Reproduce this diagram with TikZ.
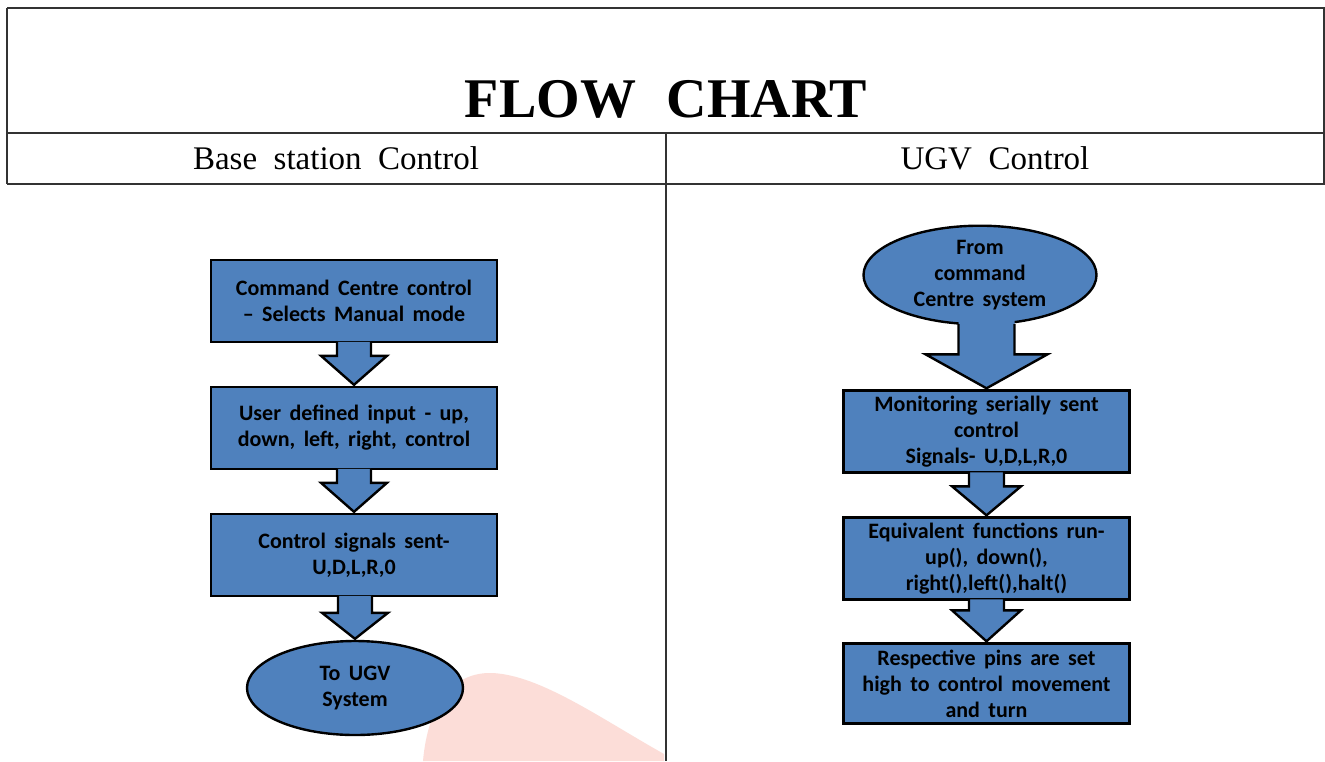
\documentclass[tikz,border=0pt]{standalone}
\usepackage{fontspec}
\setmainfont{Liberation Serif}
\newfontfamily\boxfont[WordSpace=1.7]{Carlito}
\usetikzlibrary{calc,shapes.geometric,backgrounds}
\definecolor{flowblue}{HTML}{4F81BD}
\definecolor{markpink}{HTML}{FCDDD8}
\definecolor{rulegray}{HTML}{333333}

% block arrow from the bottom of #1 to the top of #2, merged into #1:
% #3 half shaft width, #4 half head width, #5 head length,
% #6 how far the fill reaches back into #1
\newcommand\blockarrow[6]{%
  \fill[flowblue] let \p1=(#1.south), \p2=(#2.north) in
    (\x2-#3,\y1+#6) -- (\x2-#3,\y2+#5) -- (\x2-#4,\y2+#5) -- (\x2,\y2+1)
    -- (\x2+#4,\y2+#5) -- (\x2+#3,\y2+#5) -- (\x2+#3,\y1+#6) -- cycle;
  \draw[blockarrowstyle] let \p1=(#1.south), \p2=(#2.north) in
    (\x2-#3,\y1+1.5) -- (\x2-#3,\y2+#5) -- (\x2-#4,\y2+#5) -- (\x2,\y2+1)
    -- (\x2+#4,\y2+#5) -- (\x2+#3,\y2+#5) -- (\x2+#3,\y1+1.5);}

\begin{document}
\begin{tikzpicture}[x=1pt,y=-1pt,
  stepbox/.style={draw=black,line width=2.4pt,fill=flowblue,
    minimum width=286pt,minimum height=82pt,inner sep=0pt,align=center,
    font=\boxfont\bfseries\fontsize{22}{26}\selectfont},
  termbox/.style={ellipse,draw=black,line width=2.4pt,fill=flowblue,
    inner sep=0pt,align=center,
    font=\boxfont\bfseries\fontsize{22}{26}\selectfont},
  blockarrowstyle/.style={draw=black,line width=2.4pt,line join=miter},
  rule/.style={draw=rulegray,line width=1.1pt}]

\useasboundingbox (0,0) rectangle (1325,761);

% table frame
\draw[rule] (7,8) -- (1325,8);
\draw[rule] (7,133) -- (1325,133);
\draw[rule] (7,184) -- (1325,184);
\draw[rule] (7,8) -- (7,184);
\draw[rule] (1324,8) -- (1324,184);
\draw[rule] (666,133) -- (666,761);

% headings
\node[anchor=base,font=\bfseries\fontsize{56}{60}\selectfont] (title)
  at (666,117) {FLOW\hspace{0.55em}CHART};
\node[anchor=base,font=\fontsize{33}{36}\selectfont] (hleft)
  at (336,169) {Base\hspace{0.5em}station\hspace{0.5em}Control};
\node[anchor=base,font=\fontsize{33}{36}\selectfont] (hright)
  at (995,169) {UGV\hspace{0.5em}Control};

% base station column
\node[stepbox] (b1) at (354,301) {Command Centre control\\– Selects Manual mode};
\node[stepbox] (b2) at (354,428) {User defined input - up,\\down, left, right, control};
\node[stepbox] (b3) at (354,555) {Control signals sent-\\U,D,L,R,0};
\node[termbox,minimum width=216pt,minimum height=94pt] (b4) at (355,688)
  {To UGV\\System};

% UGV column
\node[termbox,minimum width=233pt,minimum height=97pt] (u1) at (980,275)
  {From\\command\\Centre system};
\node[stepbox] (u2) at (986.5,431.5) {Monitoring serially sent\\control\\Signals- U,D,L,R,0};
\node[stepbox] (u3) at (986.5,558.5) {Equivalent functions run-\\up(), down(),\\right(),left(),halt()};
\node[stepbox,minimum height=80pt] (u4) at (986.5,683.5) {Respective pins are set\\high to control movement\\and turn};

% connecting block arrows
\blockarrow{b1}{b2}{17}{33}{30}{1.3}
\blockarrow{b2}{b3}{17}{33}{30}{1.3}
\blockarrow{b3}{b4}{17}{33}{27}{1.3}
\blockarrow{u1}{u2}{28}{61}{35}{8}
\blockarrow{u2}{u3}{17.5}{34.5}{30}{1.3}
\blockarrow{u3}{u4}{17.5}{34.5}{32}{1.3}

\begin{scope}[on background layer]
  \fill[white] (0,0) rectangle (1325,761);
  % faint mark in the lower middle
  \fill[markpink] (423,761) .. controls (428,705) and (452,672) .. (492,673)
    .. controls (540,675) and (600,718) .. (664,754) -- (664,761) -- cycle;
\end{scope}
\end{tikzpicture}
\end{document}
